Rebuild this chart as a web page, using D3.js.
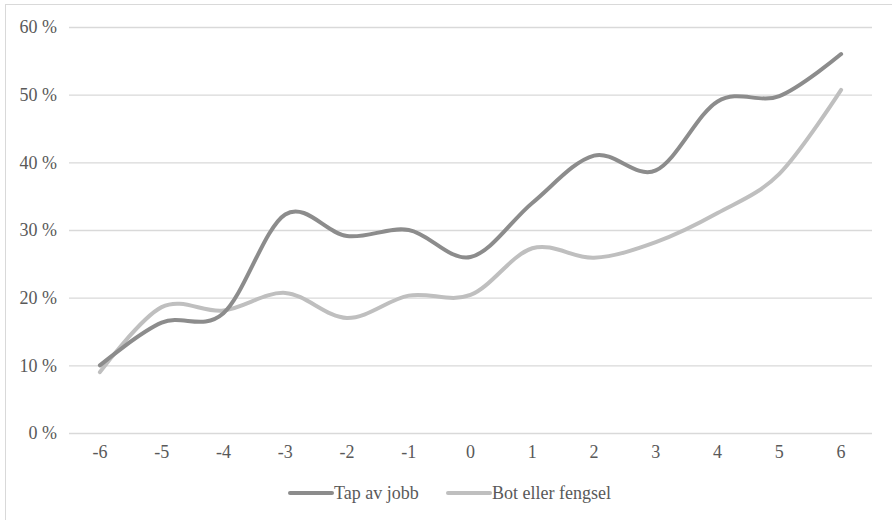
<!DOCTYPE html>
<html><head><meta charset="utf-8">
<script src="https://cdn.jsdelivr.net/npm/d3@7"></script>
<style>body{margin:0;background:#fff;}svg{display:block;} text{font-family:"Liberation Serif","Times New Roman",Times,"DejaVu Serif",serif !important;}</style>
</head><body><svg id="c" width="892" height="520"></svg>
<script>
const categories = ["-6","-5","-4","-3","-2","-1","0","1","2","3","4","5","6"];
const tapAvJobb = [10.0, 16.3, 17.7, 32.3, 29.1, 30.0, 26.0, 34.0, 41.0, 38.8, 49.0, 49.8, 56.0];
const botEllerFengsel = [9.0, 18.6, 18.1, 20.7, 17.0, 20.3, 20.4, 27.3, 25.9, 28.2, 32.5, 38.3, 50.7];
const yTicks = [0, 10, 20, 30, 40, 50, 60];
const seriesNames = ["Tap av jobb", "Bot eller fengsel"];
const seriesColors = ["#8c8c8c", "#bfbfbf"];
const fs = "18px";

const svg = d3.select("#c");
svg.append("rect").attr("x",5.5).attr("y",4.5).attr("width",900).attr("height",600)
  .attr("fill","#fff").attr("stroke","#d9d9d9").attr("stroke-width",1);

const x = d3.scaleBand().domain(categories).range([69, 872]);
const y = d3.scaleLinear().domain([0, 60]).range([433, 27]);

const gy = svg.append("g").attr("transform","translate(69,0)")
  .call(d3.axisLeft(y).tickValues(yTicks).tickSize(-(872-69)).tickFormat(d => d + " %"));
gy.select(".domain").remove();
gy.selectAll(".tick line").attr("stroke","#d9d9d9").attr("stroke-width",1.3);
gy.selectAll(".tick text").attr("x",-12).attr("fill","#595959").style("font-size",fs);

const gx = svg.append("g").attr("transform","translate(0,433)")
  .call(d3.axisBottom(x).tickSize(0).tickPadding(12));
gx.select(".domain").remove();
gx.selectAll(".tick text").attr("fill","#595959").style("font-size",fs);

const data = [tapAvJobb, botEllerFengsel];
const line = d3.line().x((d,i) => x(categories[i]) + x.bandwidth()/2).y(d => y(d))
  .curve(d3.curveCatmullRom.alpha(0));
[1,0].forEach(k => {
  svg.append("path").datum(data[k]).attr("d", line).attr("fill","none")
    .attr("stroke", seriesColors[k]).attr("stroke-width",4).attr("stroke-linecap","round");
});

// legend
const legX = [290, 448];
seriesNames.forEach((n,k) => {
  const g = svg.append("g").attr("transform",`translate(${legX[k]},493)`);
  g.append("line").attr("x1",0).attr("x2",42).attr("y1",0).attr("y2",0)
    .attr("stroke",seriesColors[k]).attr("stroke-width",4).attr("stroke-linecap","round");
  g.append("text").attr("x",44).attr("y",6).attr("fill","#595959").style("font-size",fs).text(n);
});
</script></body></html>
